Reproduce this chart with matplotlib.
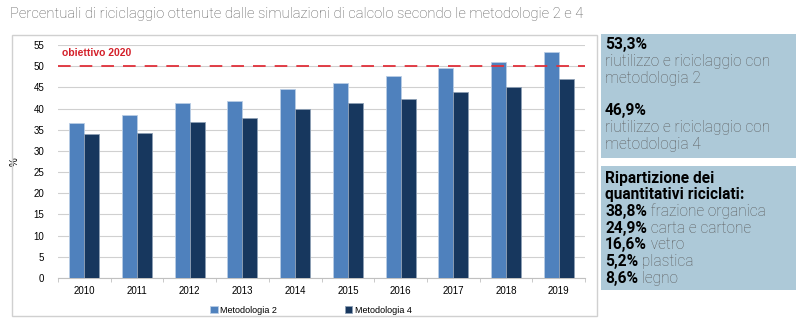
import matplotlib.pyplot as plt
import numpy as np
from matplotlib.patches import Rectangle

# dati
anni = ['2010', '2011', '2012', '2013', '2014', '2015', '2016', '2017', '2018', '2019']
metodologia_2 = [36.7, 38.5, 41.2, 41.8, 44.7, 46.1, 47.8, 49.5, 50.9, 53.3]
metodologia_4 = [34.0, 34.3, 36.9, 37.7, 40.0, 41.3, 42.3, 44.0, 45.2, 46.9]
obiettivo = 50

box1 = [('53,3%', ''), ('', 'riutilizzo e riciclaggio con'), ('', 'metodologia 2'), ('', ''),
        ('46,9%', ''), ('', 'riutilizzo e riciclaggio con'), ('', 'metodologia 4')]
box2 = [('Ripartizione dei', ''), ('quantitativi riciclati:', ''),
        ('38,8%', ' frazione organica'), ('24,9%', ' carta e cartone'),
        ('16,6%', ' vetro'), ('5,2%', ' plastica'), ('8,6%', ' legno')]

W, H = 800, 324
fig = plt.figure(figsize=(8, 3.24), dpi=100)

def fx(px):
    return px / W

def fy(py):
    return 1 - py / H

# titolo
fig.text(fx(10), fy(14), 'Percentuali di riciclaggio ottenute dalle simulazioni di calcolo secondo le metodologie 2 e 4',
         family='Roboto', weight='light', fontsize=10.6, color='#555555', va='center')

# cornice del grafico
fig.patches.append(Rectangle((fx(12), fy(316)), fx(597) - fx(12), fy(35) - fy(316),
                             transform=fig.transFigure, fill=False, edgecolor='#d0d0d0', lw=1))

ax = fig.add_axes([fx(58), fy(278), fx(585) - fx(58), fy(45) - fy(278)])
x = np.arange(len(anni))
w = 0.285
ax.bar(x - w / 2, metodologia_2, w, color='#4f81bd', edgecolor='#b9cde5', lw=0.6, label='Metodologia 2', zorder=3)
ax.bar(x + w / 2, metodologia_4, w, color='#17375e', edgecolor='#8d9fb5', lw=0.6, label='Metodologia 4', zorder=3)
ax.axhline(obiettivo, color='#e0303a', lw=1.3, dashes=(7, 5), zorder=4)
ax.text(0.008, 53, 'obiettivo 2020', transform=ax.get_yaxis_transform(), color='#d4202a',
        fontsize=7.5, weight='bold', va='center', family='Liberation Sans')

ax.set_xlim(-0.5, len(anni) - 0.5)
ax.set_ylim(0, 55)
ax.set_yticks(range(0, 56, 5))
ax.set_xticks(x)
ax.set_xticklabels(anni)
ax.yaxis.grid(True, color='#d0d0d0', lw=0.8, zorder=0)
for s in ['top', 'right']:
    ax.spines[s].set_visible(False)
ax.spines['left'].set_visible(False)
ax.spines['bottom'].set_color('#c0c0c0')
ax.tick_params(axis='y', length=0, labelsize=7, pad=10)
ax.tick_params(axis='x', length=3, labelsize=7, pad=6, color='#c0c0c0')
ax.set_xticks(np.arange(-0.5, len(anni)), minor=True)
ax.tick_params(axis='x', which='major', length=0)
ax.tick_params(axis='x', which='minor', length=3, color='#c0c0c0')
for lab in ax.get_xticklabels() + ax.get_yticklabels():
    lab.set_family('Liberation Sans')
ax.set_ylabel('%', fontsize=7, family='Liberation Sans', labelpad=3)
ax.yaxis.set_label_coords(-0.072, 0.5)
ax.legend(loc='upper center', bbox_to_anchor=(0.48, -0.085), ncol=2, frameon=False,
          handlelength=0.8, handleheight=0.8, handletextpad=0.3,
          columnspacing=7.5, prop={'family': 'Liberation Sans', 'size': 6.5})

# riquadri a destra
fig.patches.append(Rectangle((fx(601), fy(158)), fx(796) - fx(601), fy(34) - fy(158),
                             transform=fig.transFigure, color='#adc9d8', lw=0))
fig.patches.append(Rectangle((fx(601), fy(290)), fx(796) - fx(601), fy(166) - fy(290),
                             transform=fig.transFigure, color='#adc9d8', lw=0))

renderer = fig.canvas.get_renderer()

def riga(px, py, bold, normal, size=11.2):
    xx = fx(px)
    if bold:
        t = fig.text(xx, fy(py), bold, family='Roboto', weight='bold', fontsize=size,
                     color='black', va='center')
        bb = t.get_window_extent(renderer)
        xx = bb.x1 / fig.bbox.width
    if normal:
        fig.text(xx, fy(py), normal, family='Roboto', weight='light', fontsize=size,
                 color='#5a5a5a', va='center')

for i, (b, n) in enumerate(box1):
    riga(605, 45 + i * 16.5, b, n)
for i, (b, n) in enumerate(box2):
    riga(605, 178 + i * 16.7, b, n)

fig.savefig('out.png', dpi=100)
